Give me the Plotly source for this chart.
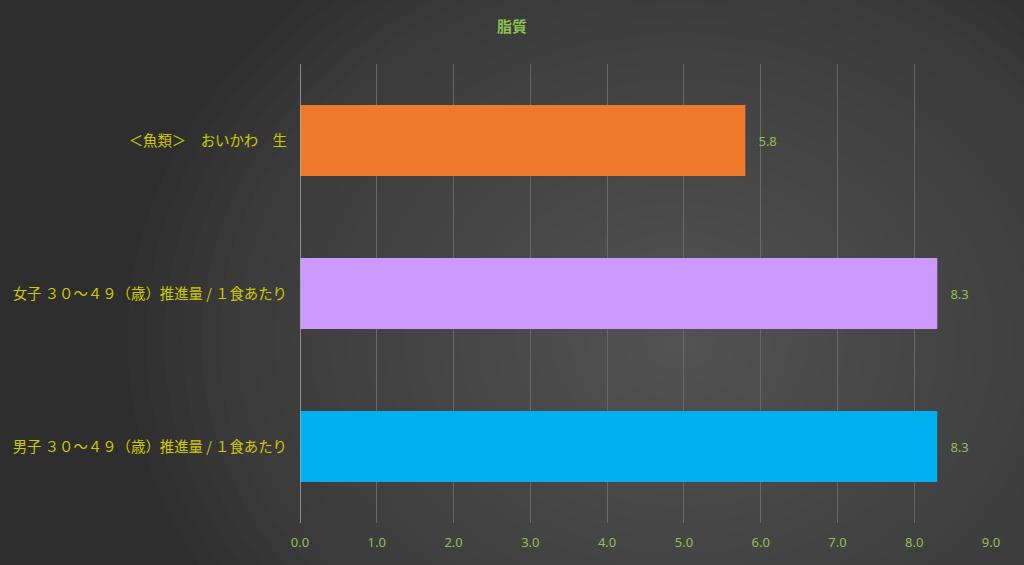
import plotly.graph_objects as go

categories = ["男子 ３０～４９（歳）推進量 / １食あたり",
              "女子 ３０～４９（歳）推進量 / １食あたり",
              "＜魚類＞　おいかわ　生"]
values = [8.3, 8.3, 5.8]
colors = ["#00B0F0", "#CC99FF", "#EF7A2C"]
tick_vals = [0, 1, 2, 3, 4, 5, 6, 7, 8, 9]
tick_text = ["0.0", "1.0", "2.0", "3.0", "4.0", "5.0", "6.0", "7.0", "8.0", "9.0"]

fig = go.Figure()
fig.add_trace(go.Bar(
    x=values, y=categories, orientation="h",
    marker=dict(color=colors, line=dict(width=0)),
    texttemplate="   %{x:.1f}", textposition="outside",
    textfont=dict(color="#92C050", size=13, family="Noto Sans"),
    cliponaxis=False, width=0.465,
))

# radial-ish background gradient via stacked translucent ellipses
shapes = []
n = 30
for i in range(n):
    r = 1.0 - i / n
    shapes.append(dict(type="circle", xref="paper", yref="paper", layer="below",
                       x0=0.55 - 0.8 * r, x1=0.55 + 0.8 * r,
                       y0=0.4 - 1.0 * r, y1=0.4 + 1.0 * r,
                       fillcolor="rgba(100,100,100,0.035)", line=dict(width=0)))

fig.update_layout(
    width=1024, height=565,
    paper_bgcolor="#2e2e2e", plot_bgcolor="rgba(0,0,0,0)",
    margin=dict(l=300, r=33, t=64, b=42),
    title=dict(text="<b>脂質</b>", x=0.5, xanchor="center", y=0.952, yanchor="middle",
               font=dict(color="#8CC050", size=15, family="Noto Sans CJK JP")),
    showlegend=False, bargap=0.535,
    shapes=shapes,
    xaxis=dict(range=[0, 9], tickvals=tick_vals, ticktext=tick_text,
               showgrid=True, gridcolor="#686868", gridwidth=1,
               zeroline=False, showline=False, ticks="",
               tickfont=dict(color="#92C050", size=13, family="Noto Sans"),
               ticklabelstandoff=10, fixedrange=True),
    yaxis=dict(showgrid=False, zeroline=False, showline=False, ticks="",
               tickfont=dict(color="#D0C800", size=14.4, family="Noto Sans CJK JP"),
               ticklabelstandoff=12, fixedrange=True),
)
fig.add_shape(type="line", xref="x", yref="paper", x0=0, x1=0, y0=0, y1=1,
              line=dict(color="#A8A8A8", width=1.5))
fig.write_html("out.html", config={"displayModeBar": False},
               post_script="document.body.style.margin='0';")
